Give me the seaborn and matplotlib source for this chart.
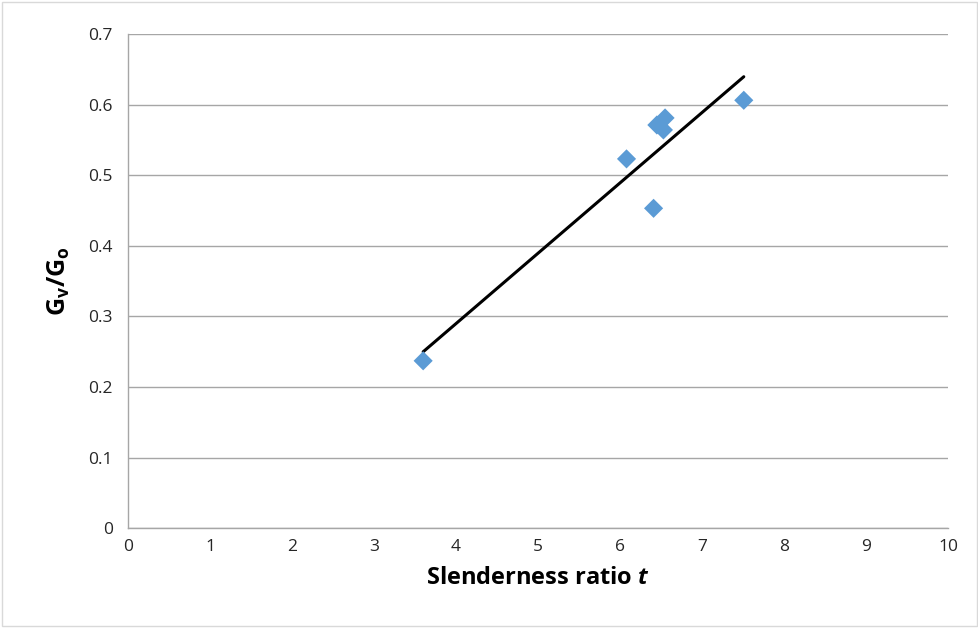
import numpy as np
import pandas as pd
import matplotlib
matplotlib.use("Agg")
import matplotlib.pyplot as plt
import seaborn as sns

# values
slenderness = [3.60, 6.08, 6.41, 6.45, 6.55, 6.53, 7.51]
gv_go = [0.237, 0.523, 0.453, 0.571, 0.581, 0.564, 0.606]

x_ticks = list(range(0, 11))
y_ticks = [0, 0.1, 0.2, 0.3, 0.4, 0.5, 0.6, 0.7]

sns.set_style("white")
plt.rcParams["font.family"] = ["Open Sans", "DejaVu Sans"]
plt.rcParams["mathtext.fontset"] = "custom"
plt.rcParams["mathtext.rm"] = "Open Sans"
plt.rcParams["mathtext.bf"] = "Open Sans:bold"
plt.rcParams["mathtext.it"] = "Open Sans:bold:italic"

df = pd.DataFrame({"t": slenderness, "ratio": gv_go})

# linear trendline (Excel-style) fitted through the points
slope, intercept = np.polyfit(df["t"], df["ratio"], 1)
trend = pd.DataFrame({"t": [df["t"].min(), df["t"].max()]})
trend["ratio"] = slope * trend["t"] + intercept

fig = plt.figure(figsize=(9.79, 6.28), dpi=100)
ax = fig.add_axes([0.1307, 0.159, 0.8376, 0.787])

sns.lineplot(data=trend, x="t", y="ratio", color="black", lw=2.2, ax=ax, zorder=3)
sns.scatterplot(data=df, x="t", y="ratio", marker="D", s=95, color="#5B9BD5",
                edgecolor="none", ax=ax, zorder=4)

ax.set_xlim(0, 10)
ax.set_ylim(0, 0.7)
ax.set_xticks(x_ticks)
ax.set_yticks(y_ticks)
ax.set_xticklabels([str(v) for v in x_ticks])
ax.set_yticklabels(["0" if v == 0 else f"{v:.1f}" for v in y_ticks])
ax.tick_params(labelsize=12.5, labelcolor="#262626", colors="#A6A6A6",
               length=6, width=1, direction="out")
ax.tick_params(axis="x", pad=3, length=5)
ax.tick_params(axis="y", pad=5)
ax.yaxis.grid(True, color="#A6A6A6", lw=1)
ax.set_axisbelow(True)
for side in ["top", "right"]:
    ax.spines[side].set_visible(False)
for side in ["left", "bottom"]:
    ax.spines[side].set_color("#A6A6A6")
    ax.spines[side].set_linewidth(1)

ax.set_xlabel(r"Slenderness ratio $t$", fontsize=17, fontweight="bold", color="black", labelpad=8)
ax.set_ylabel(r"$\mathbf{G_v/G_o}$", fontsize=18, color="black", labelpad=12)

# thin frame round the whole chart area
fig.patches.append(plt.Rectangle((0.002, 0.003), 0.996, 0.994, transform=fig.transFigure,
                                 fill=False, edgecolor="#D9D9D9", lw=1))

fig.savefig("out.png", dpi=100)
